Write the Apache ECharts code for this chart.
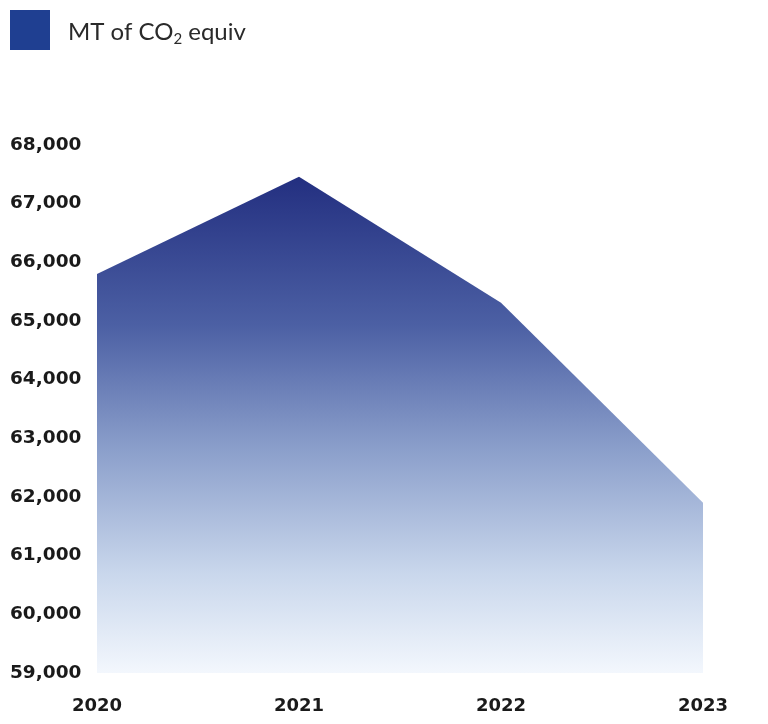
<!DOCTYPE html>
<html><head><meta charset="utf-8">
<script src="https://cdn.jsdelivr.net/npm/echarts@6/dist/echarts.min.js"></script>
<style>html,body{margin:0;padding:0;background:#fff}#c{width:768px;height:724px}</style>
</head><body><div id="c"></div>
<script>
const years = ['2020','2021','2022','2023'];
const emissions = [65800, 67460, 65310, 61900];
const yTicks = [59000, 60000, 61000, 62000, 63000, 64000, 65000, 66000, 67000, 68000];
const seriesName = 'MT of CO2 equiv';

const chart = echarts.init(document.getElementById('c'));
chart.setOption({
  animation: false,
  legend: {
    left: 10, top: 10, padding: 0,
    itemWidth: 40, itemHeight: 40, itemGap: 10,
    icon: 'rect',
    data: [{name: seriesName, itemStyle: {color: '#1f3f91'}}],
    formatter: () => '{a|MT of CO}{s|2}{a| equiv}',
    textStyle: {
      padding: [4, 0, 0, 13],
      rich: {
        a: {fontFamily: 'Lato', fontSize: 24, color: '#2a2a2a', verticalAlign: 'middle'},
        s: {fontFamily: 'Lato', fontSize: 15, color: '#2a2a2a', padding: [14, 0, 0, 0], verticalAlign: 'bottom'}
      }
    }
  },
  grid: {left: 97, right: 65, top: 145, bottom: 51, containLabel: false},
  xAxis: {
    type: 'category', data: years, boundaryGap: false,
    axisLine: {show: false}, axisTick: {show: false},
    axisLabel: {margin: 24, fontFamily: 'DejaVu Sans', fontWeight: 'bold', fontSize: 18, color: '#1a1a1a'}
  },
  yAxis: {
    type: 'value', min: yTicks[0], max: yTicks[yTicks.length - 1], interval: 1000,
    splitLine: {show: false}, axisLine: {show: false}, axisTick: {show: false},
    axisLabel: {
      align: 'left', margin: 87,
      fontFamily: 'DejaVu Sans', fontWeight: 'bold', fontSize: 18.5, color: '#1a1a1a',
      formatter: v => v.toLocaleString('en-US')
    }
  },
  series: [{
    name: seriesName, type: 'line', data: emissions,
    symbol: 'none', lineStyle: {width: 0},
    itemStyle: {color: '#1f3f91'},
    areaStyle: {
      opacity: 1,
      color: new echarts.graphic.LinearGradient(0, 0, 0, 1, [
        {offset: 0, color: '#232f80'},
        {offset: 0.3, color: '#4c60a4'},
        {offset: 0.55, color: '#8b9fcb'},
        {offset: 0.8, color: '#c9d7ec'},
        {offset: 1, color: '#f3f7fd'}
      ])
    }
  }]
});
</script></body></html>
